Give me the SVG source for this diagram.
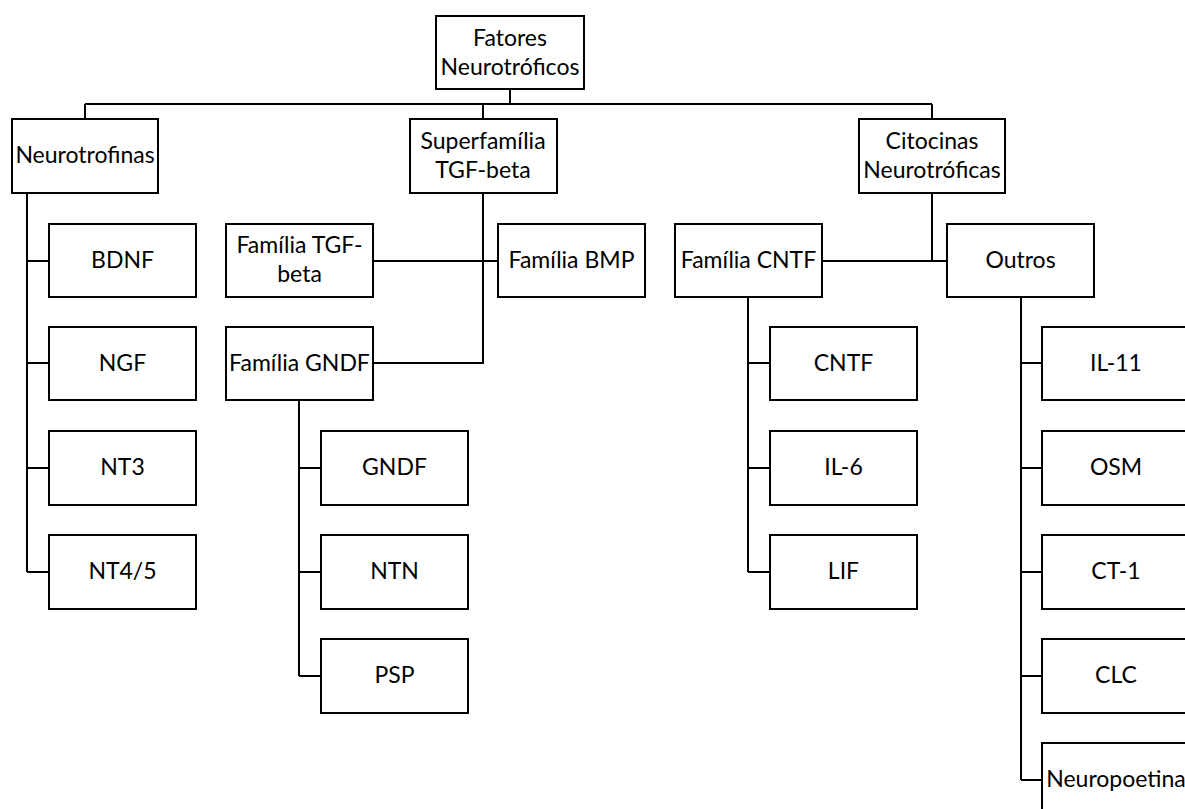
<svg xmlns="http://www.w3.org/2000/svg" width="1185" height="809" viewBox="0 0 1185 809">
<style>
.box{fill:#fff;stroke:#000;stroke-width:2}
.lbl{font-family:Lato,"Open Sans","Liberation Sans",sans-serif;font-size:23px;fill:#000;text-anchor:middle}
.con{fill:none;stroke:#000;stroke-width:2}
</style>
<rect width="1185" height="809" fill="#fff"/>
<g id="connectors">
<path class="con" d="M510 89V104M85 104H932M85 104V119M483 104V119M932 104V119"/>
<path class="con" d="M27 193V572M27 261H49M27 363H49M27 468H49M27 572H49"/>
<path class="con" d="M483 193V363H373M373 261H498"/>
<path class="con" d="M299 400V676M299 468H321M299 572H321M299 676H321"/>
<path class="con" d="M932 193V261M822 261H947"/>
<path class="con" d="M748 297V572M748 363H770M748 468H770M748 572H770"/>
<path class="con" d="M1021 297V780M1021 363H1042M1021 468H1042M1021 572H1042M1021 676H1042M1021 780H1042"/>
</g>
<g id="n-root"><rect class="box" x="436" y="16" width="148" height="73"/><text class="lbl" x="510" y="46">Fatores</text><text class="lbl" x="510" y="75">Neurotróficos</text></g>
<g id="n-neurotrofinas"><rect class="box" x="12" y="119" width="146" height="74"/><text class="lbl" x="85" y="163">Neurotrofinas</text></g>
<g id="n-superfamilia"><rect class="box" x="410" y="119" width="147" height="74"/><text class="lbl" x="483" y="149">Superfamília</text><text class="lbl" x="483" y="178">TGF-beta</text></g>
<g id="n-citocinas"><rect class="box" x="859" y="119" width="146" height="74"/><text class="lbl" x="932" y="149">Citocinas</text><text class="lbl" x="932" y="178">Neurotróficas</text></g>
<g id="n-bdnf"><rect class="box" x="49" y="224" width="147" height="73"/><text class="lbl" x="122.5" y="268">BDNF</text></g>
<g id="n-ngf"><rect class="box" x="49" y="327" width="147" height="73"/><text class="lbl" x="122.5" y="371">NGF</text></g>
<g id="n-nt3"><rect class="box" x="49" y="431" width="147" height="74"/><text class="lbl" x="122.5" y="475">NT3</text></g>
<g id="n-nt45"><rect class="box" x="49" y="535" width="147" height="74"/><text class="lbl" x="122.5" y="579">NT4/5</text></g>
<g id="n-familia-tgf"><rect class="box" x="226" y="224" width="147" height="73"/><text class="lbl" x="299.5" y="253">Família TGF-</text><text class="lbl" x="299.5" y="282">beta</text></g>
<g id="n-familia-bmp"><rect class="box" x="498" y="224" width="147" height="73"/><text class="lbl" x="571.5" y="268">Família BMP</text></g>
<g id="n-familia-gndf"><rect class="box" x="226" y="327" width="147" height="73"/><text class="lbl" x="299.5" y="371">Família GNDF</text></g>
<g id="n-gndf"><rect class="box" x="321" y="431" width="147" height="74"/><text class="lbl" x="394.5" y="475">GNDF</text></g>
<g id="n-ntn"><rect class="box" x="321" y="535" width="147" height="74"/><text class="lbl" x="394.5" y="579">NTN</text></g>
<g id="n-psp"><rect class="box" x="321" y="639" width="147" height="74"/><text class="lbl" x="394.5" y="683">PSP</text></g>
<g id="n-familia-cntf"><rect class="box" x="675" y="224" width="147" height="73"/><text class="lbl" x="748.5" y="268">Família CNTF</text></g>
<g id="n-outros"><rect class="box" x="947" y="224" width="147" height="73"/><text class="lbl" x="1020.5" y="268">Outros</text></g>
<g id="n-cntf"><rect class="box" x="770" y="327" width="147" height="73"/><text class="lbl" x="843.5" y="371">CNTF</text></g>
<g id="n-il6"><rect class="box" x="770" y="431" width="147" height="74"/><text class="lbl" x="843.5" y="475">IL-6</text></g>
<g id="n-lif"><rect class="box" x="770" y="535" width="147" height="74"/><text class="lbl" x="843.5" y="579">LIF</text></g>
<g id="n-il11"><rect class="box" x="1042" y="327" width="148" height="73"/><text class="lbl" x="1116" y="371">IL-11</text></g>
<g id="n-osm"><rect class="box" x="1042" y="431" width="148" height="74"/><text class="lbl" x="1116" y="475">OSM</text></g>
<g id="n-ct1"><rect class="box" x="1042" y="535" width="148" height="74"/><text class="lbl" x="1116" y="579">CT-1</text></g>
<g id="n-clc"><rect class="box" x="1042" y="639" width="148" height="74"/><text class="lbl" x="1116" y="683">CLC</text></g>
<g id="n-neuropoetina"><rect class="box" x="1042" y="743" width="148" height="74"/><text class="lbl" x="1116" y="787">Neuropoetina</text></g>
</svg>
